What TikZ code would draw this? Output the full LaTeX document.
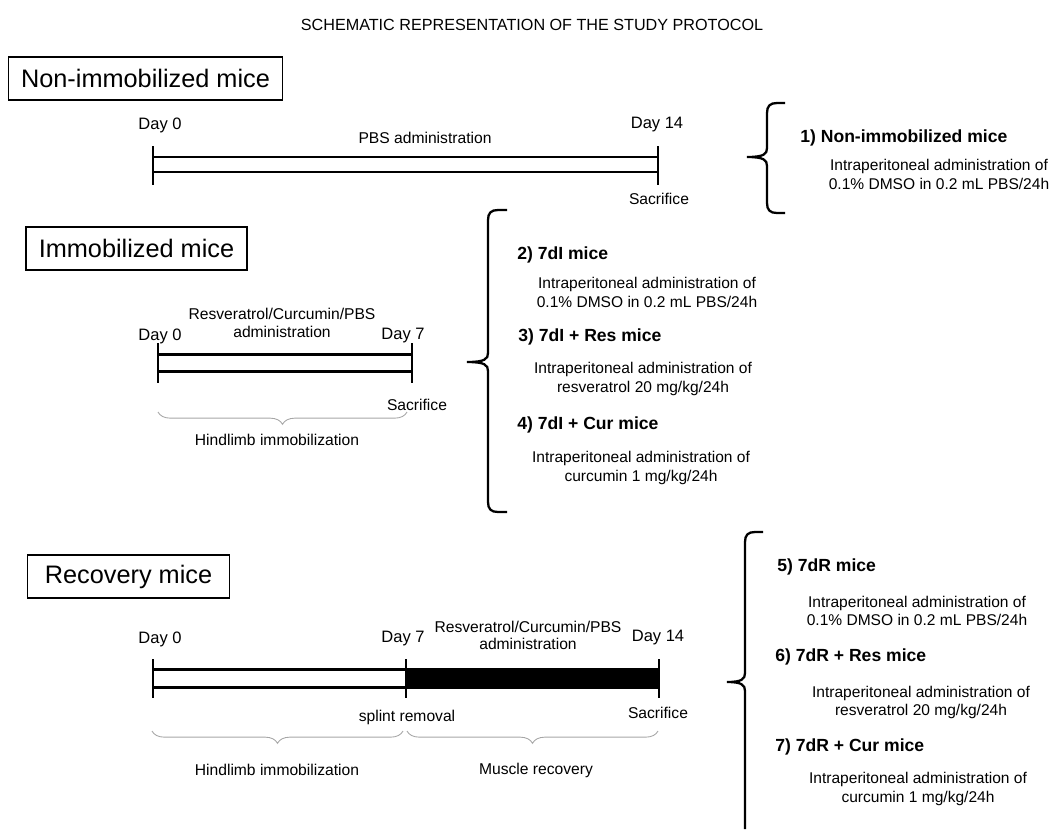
\documentclass[tikz,border=0pt]{standalone}
\usepackage{fontspec}
\setmainfont{Liberation Sans}
\usetikzlibrary{decorations.pathreplacing}

\tikzstyle{txt} = [text centered, align=center, inner sep=0pt, font=\fontsize{8.9}{10}\selectfont]
\tikzstyle{daylbl} = [txt, font=\fontsize{9.4}{11}\selectfont]
\tikzstyle{grp} = [draw, line width=1pt, inner sep=0pt, minimum height=24.4pt, font=\fontsize{14.4}{17}\selectfont]
\tikzstyle{hdr} = [anchor=west, inner sep=0pt, font=\fontsize{10}{12}\selectfont\bfseries]
\tikzstyle{desc} = [align=center, inner sep=0pt, font=\fontsize{8.85}{10.4}\selectfont]
\tikzstyle{tlbar} = [line width=1.7pt]
\tikzstyle{daytick} = [line width=1.3pt]
\tikzstyle{bbrace} = [line width=1.3pt]
\tikzstyle{sbrace} = [gray!70, line width=0.5pt, decorate, decoration={brace, mirror, amplitude=7pt}]

\begin{document}
\begin{tikzpicture}[x=0.02cm, y=-0.02cm,
>=latex,
]
\useasboundingbox (0,0) rectangle (1052,829);

\node[txt, font=\fontsize{9.2}{11}\selectfont] (title) at (532,25) {SCHEMATIC REPRESENTATION OF THE STUDY PROTOCOL};

%NON-IMMOBILIZED
\node[grp, minimum width=156pt] (nonimm) at (145.5,78.5) {Non-immobilized mice};
\draw[tlbar, fill=white] (153,157) rectangle (658,172);
\foreach \x in {153,658} {%
 \draw[daytick] (\x,146) -- (\x,185);
}
\node[daylbl] (n0) at (160,125) {Day 0};
\node[daylbl] (n14) at (657,125) {Day 14};
\node[txt] (npbs) at (425,138) {PBS administration};
\node[txt] (nsac) at (659,199) {Sacrifice};

\draw[bbrace] (785,103) -- (777,103) .. controls (770,103) and (767,106) .. (767,113) -- (767,148)
 .. controls (767,154) and (764,157) .. (747,157) .. controls (764,157) and (767,160) .. (767,166)
 -- (767,203) .. controls (767,210) and (770,213) .. (777,213) -- (785,213);
\node[hdr] (g1) at (800,138) {1) Non-immobilized mice};
\node[desc] (g1d) at (939,174.5) {Intraperitoneal administration of\\0.1\% DMSO in 0.2 mL PBS/24h};

%IMMOBILIZED
\node[grp, minimum width=126pt] (imm) at (136.5,248.5) {Immobilized mice};
\draw[tlbar, fill=white] (158,354.5) rectangle (412,371.5);
\foreach \x in {158,412} {%
 \draw[daytick] (\x,343) -- (\x,383);
}
\node[daylbl] (i0) at (160,336) {Day 0};
\node[daylbl] (i7) at (403,336) {Day 7};
\node[txt] (iadm) at (282,323) {Resveratrol/Curcumin/PBS\\administration};
\node[txt] (isac) at (417,405) {Sacrifice};
\draw[sbrace] (158,412) -- (407,412);
\node[txt] (ihind) at (277,440) {Hindlimb immobilization};

\draw[bbrace] (507,210) -- (498,210) .. controls (491,210) and (488,213) .. (488,220) -- (488,353)
 .. controls (488,359) and (485,362) .. (467,362) .. controls (485,362) and (488,365) .. (488,371)
 -- (488,502) .. controls (488,509) and (491,512) .. (498,512) -- (507,512);
\node[hdr] (g2) at (517,255) {2) 7dI mice};
\node[desc] (g2d) at (647,292.5) {Intraperitoneal administration of\\0.1\% DMSO in 0.2 mL PBS/24h};
\node[hdr] (g3) at (518,337) {3) 7dI + Res mice};
\node[desc] (g3d) at (643,379) {Intraperitoneal administration of\\resveratrol 20 mg/kg/24h};
\node[hdr] (g4) at (517,425) {4) 7dI + Cur mice};
\node[desc] (g4d) at (641,468) {Intraperitoneal administration of\\curcumin 1 mg/kg/24h};

%RECOVERY
\node[grp, minimum width=115pt] (rec) at (128.5,576.5) {Recovery mice};
\draw[tlbar, fill=white] (153,669.5) rectangle (406,687.5);
\draw[tlbar, fill=black] (406,669.5) rectangle (659,687.5);
\foreach \x in {153,406,659} {%
 \draw[daytick] (\x,659) -- (\x,698);
}
\node[daylbl] (r0) at (160,639) {Day 0};
\node[daylbl] (r7) at (403,639) {Day 7};
\node[daylbl] (r14) at (658,638) {Day 14};
\node[txt] (radm) at (528,635.5) {Resveratrol/Curcumin/PBS\\administration};
\node[txt] (rspl) at (407,717) {splint removal};
\node[txt] (rsac) at (658,713) {Sacrifice};
\draw[sbrace] (152,731) -- (403,731);
\draw[sbrace] (407,731) -- (658,731);
\node[txt] (rhind) at (277,770) {Hindlimb immobilization};
\node[txt] (rmus) at (536,770) {Muscle recovery};

\draw[bbrace] (763,532) -- (755,532) .. controls (748,532) and (745,535) .. (745,542) -- (745,673)
 .. controls (745,679) and (742,682) .. (727,682) .. controls (742,682) and (745,685) .. (745,691)
 -- (745,829);
\node[hdr] (g5) at (777,567) {5) 7dR mice};
\node[desc] (g5d) at (917,611) {Intraperitoneal administration of\\0.1\% DMSO in 0.2 mL PBS/24h};
\node[hdr] (g6) at (775,657) {6) 7dR + Res mice};
\node[desc] (g6d) at (921,702.5) {Intraperitoneal administration of\\resveratrol 20 mg/kg/24h};
\node[hdr] (g7) at (775,747) {7) 7dR + Cur mice};
\node[desc] (g7d) at (918,789) {Intraperitoneal administration of\\curcumin 1 mg/kg/24h};
\end{tikzpicture}
\end{document}
